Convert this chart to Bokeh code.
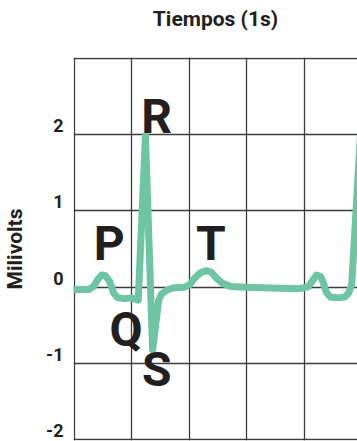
from bokeh.plotting import figure
from bokeh.models import Range1d, FixedTicker, Label
from bokeh.embed import file_html
from bokeh.resources import INLINE

# ---- data ----
time_s = [0.000, 0.051, 0.068, 0.082, 0.096, 0.109, 0.124, 0.138, 0.152, 0.176,
          0.200, 0.223, 0.248, 0.273, 0.294, 0.304, 0.322, 0.343, 0.384, 0.401,
          0.419, 0.440, 0.457, 0.475, 0.495, 0.516, 0.544, 0.600, 0.683, 0.773,
          0.798, 0.815, 0.829, 0.843, 0.857, 0.867, 0.877, 0.891, 0.916, 0.940,
          0.954, 0.965, 0.995, 1.020]
millivolts = [-0.03, -0.03, 0.01, 0.10, 0.16, 0.15, 0.07, -0.08, -0.14, -0.15,
              -0.14, -0.17, 1.98, -0.82, -0.17, -0.09, -0.04, -0.01, 0.00, 0.03,
              0.12, 0.19, 0.215, 0.20, 0.12, 0.05, 0.01, 0.00, -0.01, -0.02,
              -0.01, 0.01, 0.09, 0.16, 0.14, 0.05, -0.07, -0.13, -0.14, -0.13,
              -0.08, 0.04, 1.98, -0.82]

x_grid = [0.0, 0.2, 0.4, 0.6, 0.8, 1.0]
y_grid = [-2, -1, 0, 1, 2, 3]
y_tick_values = [2, 1, 0, -1, -2]
y_tick_labels = ["2", "1", "0", "-1", "-2"]

wave_names = ["P", "Q", "R", "S", "T"]
wave_x = [0.122, 0.181, 0.287, 0.287, 0.475]
wave_y = [0.57, -0.55, 2.23, -1.08, 0.57]

x_label_text = "Tiempos (1s)"
y_label_text = "Milivolts"

FONT = "Roboto"
INK = "#231f20"
GRID = "#3c3c3c"
TRACE = "#6dc5a1"
LABEL_LIFT = 0.12  # tick labels sit just above their grid line

p = figure(width=357, height=441, output_backend="svg", toolbar_location=None,
           x_range=Range1d(-0.002, 0.985), y_range=Range1d(-2.008, 3.008),
           x_axis_location="above",
           min_border_left=73, min_border_top=57, min_border_right=0,
           min_border_bottom=1, outline_line_color=None,
           background_fill_color="white", border_fill_color="white")

# time axis: only its label, shown above the grid
xax = p.xaxis[0]
xax.ticker = FixedTicker(ticks=[])
xax.axis_line_color = None
xax.major_tick_line_color = None
xax.minor_tick_line_color = None
xax.major_tick_out = 0
xax.major_tick_in = 0
xax.major_label_standoff = 0
xax.axis_label = x_label_text
xax.axis_label_text_font = FONT
xax.axis_label_text_font_style = "bold"
xax.axis_label_text_font_size = "21px"
xax.axis_label_text_color = INK
xax.axis_label_standoff = 27

yax = p.yaxis[0]
label_pos = [v + LABEL_LIFT for v in y_tick_values]
yax.ticker = FixedTicker(ticks=label_pos)
yax.major_label_overrides = {pos: t for pos, t in zip(label_pos, y_tick_labels)}
yax.axis_line_color = None
yax.major_tick_line_color = None
yax.minor_tick_line_color = None
yax.major_tick_out = 0
yax.major_tick_in = 0
yax.major_label_standoff = 10
yax.major_label_text_font = FONT
yax.major_label_text_font_style = "bold"
yax.major_label_text_font_size = "18px"
yax.major_label_text_color = INK
yax.axis_label = y_label_text
yax.axis_label_text_font = FONT
yax.axis_label_text_font_style = "bold"
yax.axis_label_text_font_size = "21px"
yax.axis_label_text_color = INK
yax.axis_label_standoff = 16

p.xgrid.ticker = FixedTicker(ticks=x_grid)
p.ygrid.ticker = FixedTicker(ticks=y_grid)
for g in (p.xgrid[0], p.ygrid[0]):
    g.grid_line_color = GRID
    g.grid_line_width = 1.3
    g.grid_line_alpha = 1.0

p.line(time_s, millivolts, line_color=TRACE, line_width=7,
       line_join="round", line_cap="round")

for name, x, y in zip(wave_names, wave_x, wave_y):
    p.add_layout(Label(x=x, y=y, text=name, text_font=FONT,
                       text_font_style="bold", text_font_size="48px", text_color=INK,
                       text_align="center", text_baseline="alphabetic"))

open("out.html", "w").write(file_html(p, INLINE))
